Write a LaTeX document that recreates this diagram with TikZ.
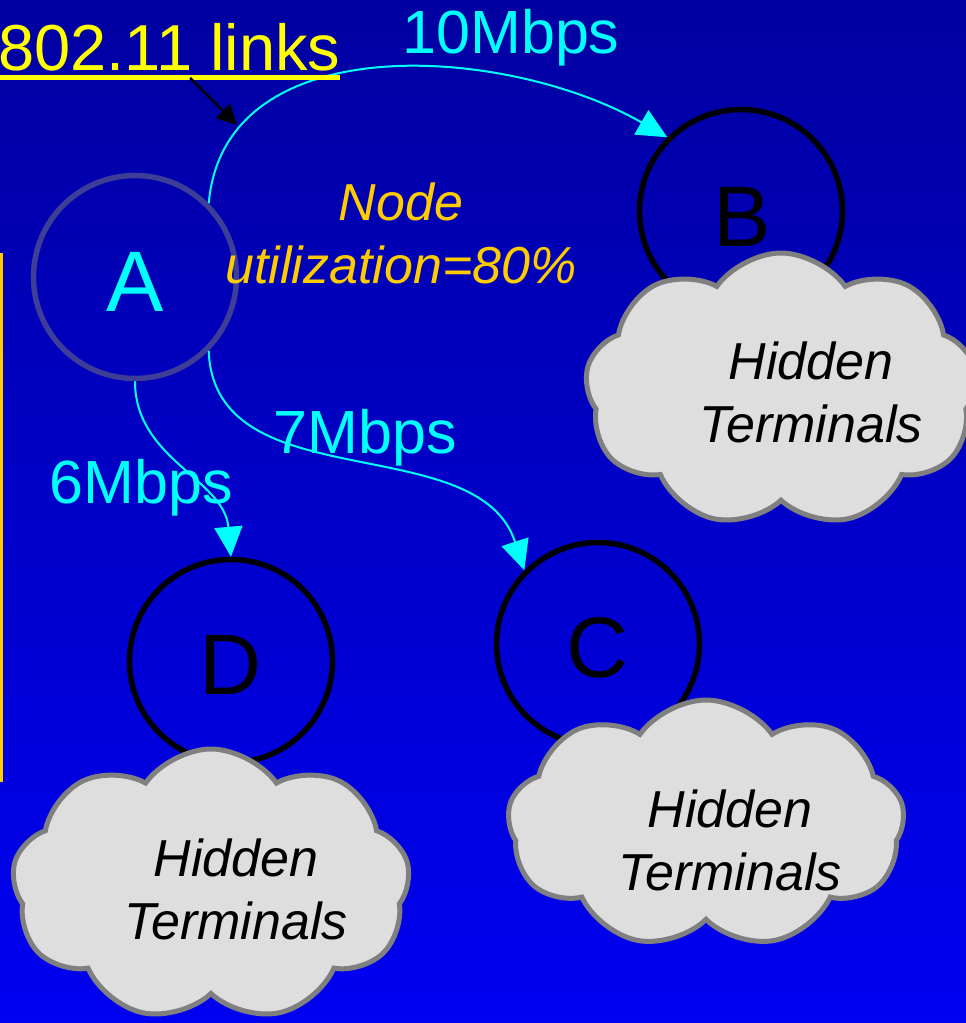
\documentclass[tikz,border=0pt]{standalone}
\usepackage{fontspec}
\setmainfont{Liberation Sans}
\usetikzlibrary{positioning, calc, arrows.meta, shapes.symbols}
\definecolor{bgtop}{RGB}{0,0,160}
\definecolor{bgbot}{RGB}{0,0,242}
\definecolor{ringA}{RGB}{62,62,152}
\definecolor{ratecol}{RGB}{0,255,255}
\definecolor{cloudfill}{RGB}{222,222,222}
\definecolor{cloudline}{RGB}{128,128,128}
\definecolor{utilcol}{RGB}{255,204,0}
\definecolor{linkcol}{RGB}{255,255,0}
\tikzset{station/.style={circle, draw=black, line width=5.5pt, minimum size=203pt, inner sep=0pt, font=\fontsize{86}{86}\selectfont}}
\tikzset{hidden/.style={cloud, cloud puffs=9, cloud puff arc=110, draw=cloudline, fill=cloudfill, line width=5pt, inner sep=0pt}}
\tikzset{hiddentxt/.style={align=center, inner sep=0pt, font=\itshape\fontsize{52}{63}\selectfont}}
\tikzset{rate/.style={ratecol, line width=2pt, -{Triangle[length=30pt, width=28pt]}}}
\tikzset{ratetxt/.style={text=ratecol, anchor=base, inner sep=0pt, font=\fontsize{61}{61}\selectfont}}

\begin{document}
\begin{tikzpicture}[x=1pt, y=-1pt]

  \useasboundingbox (0,0) rectangle (966,1023);
  \fill[top color=bgtop, bottom color=bgbot] (0,0) rectangle (966,1023);
  \draw[utilcol, line width=3pt] (1.5,253) -- (1.5,782);

  % stations
  \node[station, draw=ringA] (A) at (135,277) {};
  \node[station] (B) at (741,211) {};
  \node[station] (C) at (598,644) {};
  \node[station] (D) at (231,661) {};
  \node[anchor=base, inner sep=0pt, text=ratecol, font=\fontsize{86}{86}\selectfont] (Albl) at (135,311) {A};
  \node[anchor=base, inner sep=0pt, font=\fontsize{86}{86}\selectfont] (Blbl) at (742,246) {B};
  \node[anchor=base, inner sep=0pt, font=\fontsize{86}{86}\selectfont] (Clbl) at (598,677) {C};
  \node[anchor=base, inner sep=0pt, font=\fontsize{86}{86}\selectfont] (Dlbl) at (231,694) {D};

  % hidden terminals
  \node[hidden, minimum width=392pt, minimum height=274pt] (cloudB) at (781,390) {};
  \node[hidden, minimum width=397pt, minimum height=248pt] (cloudC) at (706,824) {};
  \node[hidden, minimum width=398pt, minimum height=272pt] (cloudD) at (211,885) {};
  \node[hiddentxt] (hidB) at (811,392) {Hidden\\Terminals};
  \node[hiddentxt] (hidC) at (730,840) {Hidden\\Terminals};
  \node[hiddentxt] (hidD) at (236,889) {Hidden\\Terminals};

  % rates
  \node[ratetxt] (r10) at (511,53) {10Mbps};
  \node[ratetxt] (r7) at (365,453) {7Mbps};
  \node[ratetxt] (r6) at (141,503) {6Mbps};
  \draw[rate] (A.45) to[out=85, in=150] (B.135);
  \draw[rate] (A.-45) to[out=-88, in=108] (C.135);
  \draw[rate] (A.270) to[out=-90, in=95] (D.90);

  \node[hiddentxt, text=utilcol] (util) at (401,233) {Node\\utilization=80\%};

  \node[anchor=base west, inner sep=0pt, text=linkcol, font=\fontsize{65}{65}\selectfont] (links) at (-2,70) {802.11 links};
  \draw[linkcol, line width=5pt] (0,77.5) -- (links.base east |- 0,77.5);
  \coordinate (linkpt) at (237,125);
  \draw[black, line width=2.5pt, -{Triangle[length=20pt, width=20pt]}] ([xshift=21pt, yshift=-8pt]links.base) -- (linkpt);

\end{tikzpicture}
\end{document}
